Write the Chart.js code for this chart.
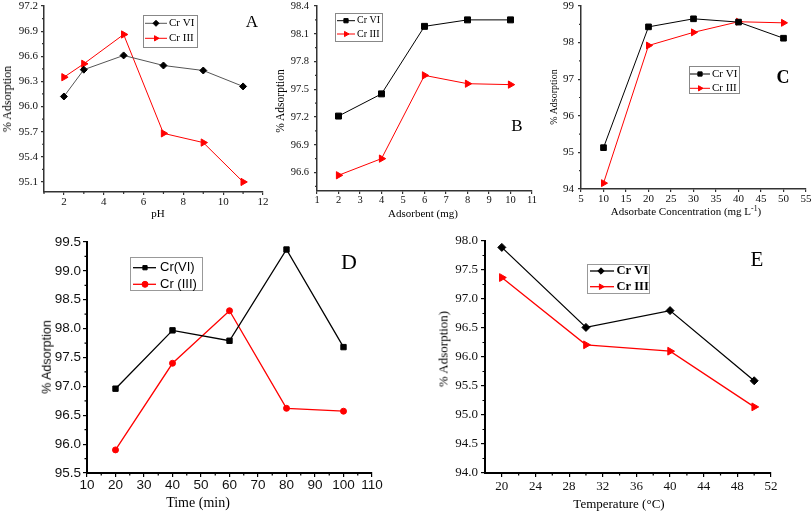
<!DOCTYPE html>
<html><head><meta charset="utf-8">
<script src="https://cdn.jsdelivr.net/npm/chart.js@4/dist/chart.umd.min.js"></script>
<style>
html,body{margin:0;padding:0;background:#fff;}
#wrap{position:relative;width:812px;height:511px;overflow:hidden;background:#fff;}
#wrap canvas{position:absolute;left:0;top:0;}
.t{position:absolute;white-space:nowrap;line-height:1;color:#000;font-family:"Liberation Serif",serif;transform:translate(-50%,-50%);}
.r{transform:translate(-50%,-50%) rotate(-90deg);}
.s{font-family:"Liberation Sans",sans-serif;}
sup{font-size:0.7em;vertical-align:0.5em;line-height:0;}
</style></head><body>
<div id="wrap">
<canvas id="cA" width="812" height="511"></canvas>
<canvas id="cB" width="812" height="511"></canvas>
<canvas id="cC" width="812" height="511"></canvas>
<canvas id="cD" width="812" height="511"></canvas>
<canvas id="cE" width="812" height="511"></canvas>

<div class="t r" style="left:7px;top:99px;font-size:12px">% Adsorption</div>
<div class="t" style="left:158px;top:213px;font-size:11px">pH</div>
<div class="t" style="left:252px;top:21px;font-size:17px">A</div>

<div class="t r" style="left:281px;top:101px;font-size:11.5px">% Adsorption</div>
<div class="t" style="left:423px;top:213px;font-size:11px">Adsorbent (mg)</div>
<div class="t" style="left:517px;top:125px;font-size:17px">B</div>

<div class="t r" style="left:554px;top:97px;font-size:10px">% Adsorption</div>
<div class="t" style="left:686px;top:211px;font-size:11px">Adsorbate Concentration (mg L<sup>-1</sup>)</div>
<div class="t" style="left:783px;top:77px;font-size:18px;font-weight:bold">C</div>

<div class="t r s" style="left:47px;top:357px;font-size:12.5px">% Adsorption</div>
<div class="t" style="left:198px;top:503px;font-size:14px">Time (min)</div>
<div class="t" style="left:349px;top:262px;font-size:22px">D</div>

<div class="t r" style="left:443px;top:349px;font-size:13px">% Adsorption)</div>
<div class="t" style="left:619px;top:503px;font-size:13px">Temperature (°C)</div>
<div class="t" style="left:757px;top:259px;font-size:21px">E</div>
</div>
<script>
// ---------- data ----------
const phX = [2, 3, 5, 7, 9, 11];
const phCr6 = [96.12, 96.44, 96.61, 96.49, 96.43, 96.24];
const phCr3 = [96.35, 96.51, 96.86, 95.68, 95.57, 95.10];

const dosX = [2, 4, 6, 8, 10];
const dosCr6 = [97.21, 97.45, 98.18, 98.25, 98.25];
const dosCr3 = [96.57, 96.75, 97.65, 97.56, 97.55];

const concX = [10, 20, 30, 40, 50];
const concCr6 = [95.13, 98.43, 98.65, 98.56, 98.12];
const concCr3 = [94.16, 97.92, 98.28, 98.57, 98.54];

const timeX = [20, 40, 60, 80, 100];
const timeCr6 = [96.96, 97.97, 97.79, 99.37, 97.68];
const timeCr3 = [95.90, 97.40, 98.31, 96.62, 96.57];

const tempX = [20, 30, 40, 50];
const tempCr6 = [97.89, 96.51, 96.80, 95.59];
const tempCr3 = [97.37, 96.21, 96.10, 95.14];

// ---------- ticks ----------
const phXTicks = [2, 4, 6, 8, 10, 12];
const phXMinor = [1, 3, 5, 7, 9, 11];
const phYTicks = [95.1, 95.4, 95.7, 96.0, 96.3, 96.6, 96.9, 97.2];
const phYMinor = [95.25, 95.55, 95.85, 96.15, 96.45, 96.75, 97.05];

const dosXTicks = [1, 2, 3, 4, 5, 6, 7, 8, 9, 10, 11];
const dosXMinor = [];
const dosYTicks = [96.6, 96.9, 97.2, 97.5, 97.8, 98.1, 98.4];
const dosYMinor = [96.45, 96.75, 97.05, 97.35, 97.65, 97.95, 98.25];

const concXTicks = [5, 10, 15, 20, 25, 30, 35, 40, 45, 50, 55];
const concXMinor = [];
const concYTicks = [94, 95, 96, 97, 98, 99];
const concYMinor = [94.5, 95.5, 96.5, 97.5, 98.5];

const timeXTicks = [10, 20, 30, 40, 50, 60, 70, 80, 90, 100, 110];
const timeXMinor = [15, 25, 35, 45, 55, 65, 75, 85, 95, 105];
const timeYTicks = [95.5, 96.0, 96.5, 97.0, 97.5, 98.0, 98.5, 99.0, 99.5];
const timeYMinor = [95.75, 96.25, 96.75, 97.25, 97.75, 98.25, 98.75, 99.25];

const tempXTicks = [20, 24, 28, 32, 36, 40, 44, 48, 52];
const tempXMinor = [22, 26, 30, 34, 38, 42, 46, 50];
const tempYTicks = [94.0, 94.5, 95.0, 95.5, 96.0, 96.5, 97.0, 97.5, 98.0];
const tempYMinor = [94.25, 94.75, 95.25, 95.75, 96.25, 96.75, 97.25, 97.75];

const seriesNames1 = ['Cr VI', 'Cr III'];
const seriesNamesD = ['Cr(VI)', 'Cr (III)'];

// ---------- helpers ----------
const W = 812, H = 511, YW = 40, XH = 20;
const pts = (xs, ys) => xs.map((x, i) => ({x: x, y: ys[i]}));

function drawMarker(ctx, style, rot, r, x, y, color) {
  ctx.save();
  ctx.fillStyle = color; ctx.strokeStyle = color; ctx.lineWidth = 1;
  ctx.beginPath();
  if (style === 'rect') {
    const s = r * Math.SQRT1_2;
    ctx.rect(x - s, y - s, 2 * s, 2 * s);
  } else if (style === 'rectRot') {
    ctx.moveTo(x - r, y); ctx.lineTo(x, y - r); ctx.lineTo(x + r, y); ctx.lineTo(x, y + r); ctx.closePath();
  } else if (style === 'triangle') {
    let a = rot * Math.PI / 180;
    ctx.moveTo(x + Math.sin(a) * r, y - Math.cos(a) * r);
    a += 2 * Math.PI / 3;
    ctx.lineTo(x + Math.sin(a) * r, y - Math.cos(a) * r);
    a += 2 * Math.PI / 3;
    ctx.lineTo(x + Math.sin(a) * r, y - Math.cos(a) * r);
    ctx.closePath();
  } else {
    ctx.arc(x, y, r, 0, Math.PI * 2);
  }
  ctx.fill(); ctx.stroke();
  ctx.restore();
}

function extras(cfg) {
  return {
    id: 'extras',
    afterDraw(chart) {
      const ctx = chart.ctx;
      const xs = chart.scales.x, ys = chart.scales.y;
      ctx.save();
      ctx.strokeStyle = cfg.axisColor; ctx.lineWidth = 1.2;
      ctx.beginPath();
      cfg.xm.forEach(v => {
        const p = xs.getPixelForValue(v);
        ctx.moveTo(p, xs.top); ctx.lineTo(p, xs.top + cfg.minorLen);
      });
      cfg.ym.forEach(v => {
        const p = ys.getPixelForValue(v);
        ctx.moveTo(ys.right - cfg.minorLen, p); ctx.lineTo(ys.right, p);
      });
      ctx.stroke();
      const L = cfg.legend;
      ctx.fillStyle = '#fff'; ctx.fillRect(L.x, L.y, L.w, L.h);
      ctx.strokeStyle = L.border; ctx.lineWidth = 1;
      ctx.strokeRect(L.x + 0.5, L.y + 0.5, L.w, L.h);
      chart.data.datasets.forEach((ds, i) => {
        const y = L.rows[i];
        ctx.strokeStyle = ds.borderColor; ctx.lineWidth = ds.borderWidth;
        ctx.beginPath(); ctx.moveTo(L.line[0], y); ctx.lineTo(L.line[1], y); ctx.stroke();
        drawMarker(ctx, ds.pointStyle, ds.pointRotation || 0, L.r, L.mx, y, ds.pointBackgroundColor);
        ctx.fillStyle = '#000'; ctx.font = L.font;
        ctx.textBaseline = 'middle'; ctx.textAlign = 'left';
        ctx.fillText(ds.label, L.tx, y);
      });
      ctx.restore();
    }
  };
}

function ds(label, data, color, lineColor, style, rot, r, bw) {
  return {
    label: label, data: data, borderColor: lineColor, borderWidth: bw,
    pointStyle: style, pointRotation: rot, pointRadius: r, pointHoverRadius: r,
    pointBackgroundColor: color, pointBorderColor: color, pointBorderWidth: 1,
    tension: 0, fill: false
  };
}

function makePanel(p) {
  const [L, T, R, B] = p.area;
  const font = {family: p.family, size: p.size};
  const axis = (min, max, ticks, dec, isX) => ({
    type: 'linear', min: min, max: max,
    afterBuildTicks: s => { s.ticks = ticks.map(v => ({value: v})); },
    afterFit: s => {
      if (isX) { s.height = XH; s.paddingLeft = 0; s.paddingRight = 0; }
      else { s.width = YW; s.paddingTop = 0; s.paddingBottom = 0; }
    },
    grid: {drawOnChartArea: false, drawTicks: true, tickLength: p.tl, color: p.axisColor, tickColor: p.axisColor, lineWidth: 1.2},
    border: {display: true, color: p.axisColor, width: p.border},
    ticks: {
      font: font, color: '#111', autoSkip: false, maxRotation: 0,
      padding: isX ? p.xpad : p.ypad,
      callback: v => Number(v).toFixed(dec)
    }
  });
  new Chart(document.getElementById(p.id), {
    type: 'line',
    data: {datasets: p.ds},
    options: {
      responsive: false, animation: false, events: [],
      layout: {padding: {left: L - YW, top: T, right: W - R, bottom: H - B - XH}},
      plugins: {legend: {display: false}, tooltip: {enabled: false}},
      scales: {
        x: axis(p.xr[0], p.xr[1], p.xt, 0, true),
        y: axis(p.yr[0], p.yr[1], p.yt, p.ydec, false)
      }
    },
    plugins: [extras(p)]
  });
}

const RED = '#ff0000';
const serif = 'Liberation Serif';

makePanel({
  id: 'cA', area: [44, 6, 263, 192], xr: [1, 12], yr: [94.98, 97.2],
  xt: phXTicks, yt: phYTicks, xm: phXMinor, ym: phYMinor, ydec: 1,
  family: serif, size: 11, tl: 3, xpad: 1, ypad: 3, border: 1.5, axisColor: '#333', minorLen: 2,
  ds: [ds(seriesNames1[0], pts(phX, phCr6), '#000', '#555', 'rectRot', 0, 3.5, 1),
       ds(seriesNames1[1], pts(phX, phCr3), RED, RED, 'triangle', 90, 4.2, 1)],
  legend: {x: 143, y: 15, w: 54, h: 32, rows: [23.3, 38.3], line: [145, 167], mx: 156, tx: 169, r: 3,
           font: '11px "Liberation Serif"', border: '#888'}
});

makePanel({
  id: 'cB', area: [317, 6, 532, 191], xr: [1, 11], yr: [96.4, 98.4],
  xt: dosXTicks, yt: dosYTicks, xm: dosXMinor, ym: dosYMinor, ydec: 1,
  family: serif, size: 10.5, tl: 3, xpad: 0, ypad: 5, border: 1.5, axisColor: '#333', minorLen: 2,
  ds: [ds(seriesNames1[0], pts(dosX, dosCr6), '#000', '#000', 'rect', 0, 4.2, 1),
       ds(seriesNames1[1], pts(dosX, dosCr3), RED, RED, 'triangle', 90, 4.2, 1)],
  legend: {x: 335, y: 13, w: 47, h: 28, rows: [20.7, 34], line: [337, 355], mx: 346, tx: 357, r: 3,
           font: '10px "Liberation Serif"', border: '#888'}
});

makePanel({
  id: 'cC', area: [581, 6, 806, 189], xr: [5, 55], yr: [94, 99],
  xt: concXTicks, yt: concYTicks, xm: concXMinor, ym: concYMinor, ydec: 0,
  family: serif, size: 11, tl: 3, xpad: 1, ypad: 4, border: 1.5, axisColor: '#333', minorLen: 2,
  ds: [ds(seriesNames1[0], pts(concX, concCr6), '#000', '#000', 'rect', 0, 4, 1),
       ds(seriesNames1[1], pts(concX, concCr3), RED, RED, 'triangle', 90, 4, 1)],
  legend: {x: 689, y: 66, w: 50, h: 27, rows: [74, 88.3], line: [690, 710], mx: 700, tx: 712, r: 3,
           font: '11px "Liberation Serif"', border: '#888'}
});

makePanel({
  id: 'cD', area: [87, 242, 372, 473], xr: [10, 110], yr: [95.5, 99.5],
  xt: timeXTicks, yt: timeYTicks, xm: timeXMinor, ym: timeYMinor, ydec: 1,
  family: 'Liberation Sans', size: 13.5, tl: 4, xpad: 0, ypad: 2, border: 2, axisColor: '#000', minorLen: 2.5,
  ds: [ds(seriesNamesD[0], pts(timeX, timeCr6), '#000', '#000', 'rect', 0, 3.8, 1.3),
       ds(seriesNamesD[1], pts(timeX, timeCr3), RED, RED, 'circle', 0, 3, 1.3)],
  legend: {x: 130, y: 257, w: 72, h: 33, rows: [267.7, 284.3], line: [133, 156], mx: 145, tx: 160, r: 3,
           font: '13px "Liberation Sans"', border: '#999'}
});

makePanel({
  id: 'cE', area: [485, 241, 771, 473], xr: [18, 52], yr: [94, 98],
  xt: tempXTicks, yt: tempYTicks, xm: tempXMinor, ym: tempYMinor, ydec: 1,
  family: serif, size: 13, tl: 4, xpad: 2, ypad: 3, border: 2, axisColor: '#000', minorLen: 2.5,
  ds: [ds(seriesNames1[0], pts(tempX, tempCr6), '#000', '#000', 'rectRot', 0, 4, 1.3),
       ds(seriesNames1[1], pts(tempX, tempCr3), RED, RED, 'triangle', 90, 4.5, 1.3)],
  legend: {x: 587, y: 264, w: 62, h: 29, rows: [271, 286.7], line: [590, 614], mx: 601, tx: 616.5, r: 3.2,
           font: 'bold 12.5px "Liberation Serif"', border: '#999'}
});
</script>
</body></html>
